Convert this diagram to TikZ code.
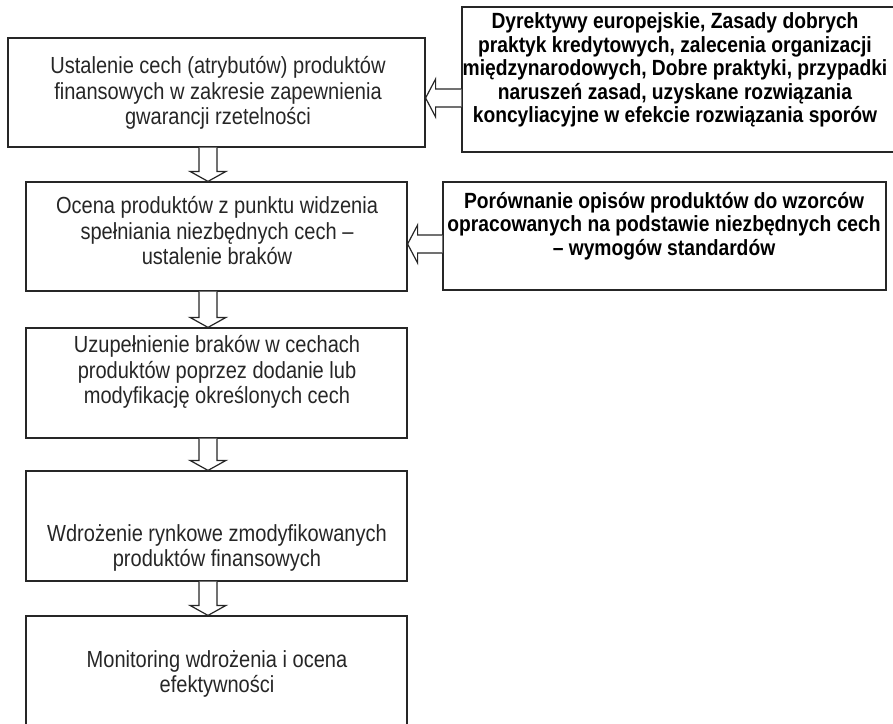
\documentclass[tikz,border=0pt]{standalone}
\usepackage{fontspec}
\setmainfont{Liberation Sans}
\newfontfamily\stagefont{Liberation Sans}[FakeStretch=0.86]
\newfontfamily\sourcefont{Liberation Sans}[FakeStretch=0.875]
\usetikzlibrary{calc,positioning}

\tikzstyle{stage} = [%
  rectangle,
  draw=black!85,
  line width=1.2pt,
  fill=none,
  inner sep=0pt
]
\tikzstyle{stagetext} = [%
  align=center,
  text=black!85,
  inner sep=0pt,
  font=\stagefont\fontsize{23.3}{25.5}\selectfont
]
\tikzstyle{sourcetext} = [%
  align=center,
  text=black,
  inner sep=0pt,
  font=\sourcefont\bfseries\fontsize{22}{23.5}\selectfont
]
\tikzstyle{blockarrow} = [%
  draw=black!85,
  line width=1.2pt,
  fill=white,
  line join=miter
]

% hollow arrow pointing down, from one stage to the next
\newcommand{\downblock}[2]{%
  \draw[blockarrow] let \p1=(#1.south), \p2=(#2.north) in
    (\x1-17.5pt,\y1) -- (\x1-17.5pt,\y2+10pt) -- (\x1-26.5pt,\y2+10pt)
    -- (\x1-8.5pt,\y2) -- (\x1+9.5pt,\y2+10pt) -- (\x1+0.5pt,\y2+10pt)
    -- (\x1+0.5pt,\y1);
}
% hollow arrow pointing left, from a source box into a stage
\newcommand{\leftblock}[3]{%
  \draw[blockarrow] let \p1=(#1.west), \p2=(#2.east), \p3=(0,#3) in
    (\x1,\y3+9pt) -- (\x2+10pt,\y3+9pt) -- (\x2+10pt,\y3+19pt)
    -- (\x2,\y3) -- (\x2+10pt,\y3-19pt) -- (\x2+10pt,\y3-9pt)
    -- (\x1,\y3-9pt);
}

\begin{document}
\begin{tikzpicture}[x=1pt,y=-1pt]
  \useasboundingbox (0,0) rectangle (893,723);

  % Stages
  \node[stage,minimum width=417pt,minimum height=109pt] (S1) at (216.5,92.5) {};
  \node[stage,minimum width=381pt,minimum height=109pt] (S2) at (216.5,236.5) {};
  \node[stage,minimum width=381pt,minimum height=110pt] (S3) at (216.5,383) {};
  \node[stage,minimum width=381pt,minimum height=110pt] (S4) at (216.5,526) {};
  \node[stage,minimum width=381pt,minimum height=110pt] (S5) at (216.5,671) {};

  % Sources
  \node[stage,minimum width=433pt,minimum height=145pt] (R1) at (678.5,79.5) {};
  \node[stage,minimum width=443pt,minimum height=108pt] (R2) at (664.5,236) {};

  % Texts
  \node[stagetext] (T1) at (218,93) {Ustalenie cech (atrybutów) produktów\\
    finansowych w zakresie zapewnienia\\gwarancji rzetelności};
  \node[stagetext] (T2) at (217,231) {Ocena produktów z punktu widzenia\\
    spełniania niezbędnych cech –\\ustalenie braków};
  \node[stagetext] (T3) at (217,372) {Uzupełnienie braków w cechach\\
    produktów poprzez dodanie lub\\modyfikację określonych cech};
  \node[stagetext] (T4) at (217,548) {Wdrożenie rynkowe zmodyfikowanych\\
    produktów finansowych};
  \node[stagetext] (T5) at (217,674) {Monitoring wdrożenia i ocena\\efektywności};
  \node[sourcetext] (U1) at (675,70) {Dyrektywy europejskie, Zasady dobrych\\
    praktyk kredytowych, zalecenia organizacji\\
    międzynarodowych, Dobre praktyki, przypadki\\
    naruszeń zasad, uzyskane rozwiązania\\
    koncyliacyjne w efekcie rozwiązania sporów};
  \node[sourcetext] (U2) at (664,226) {Porównanie opisów produktów do wzorców\\
    opracowanych na podstawie niezbędnych cech\\– wymogów standardów};

  % Arrows
  \downblock{S1}{S2}
  \downblock{S2}{S3}
  \downblock{S3}{S4}
  \downblock{S4}{S5}
  \leftblock{R1}{S1}{98}
  \leftblock{R2}{S2}{244}

\end{tikzpicture}
\end{document}
